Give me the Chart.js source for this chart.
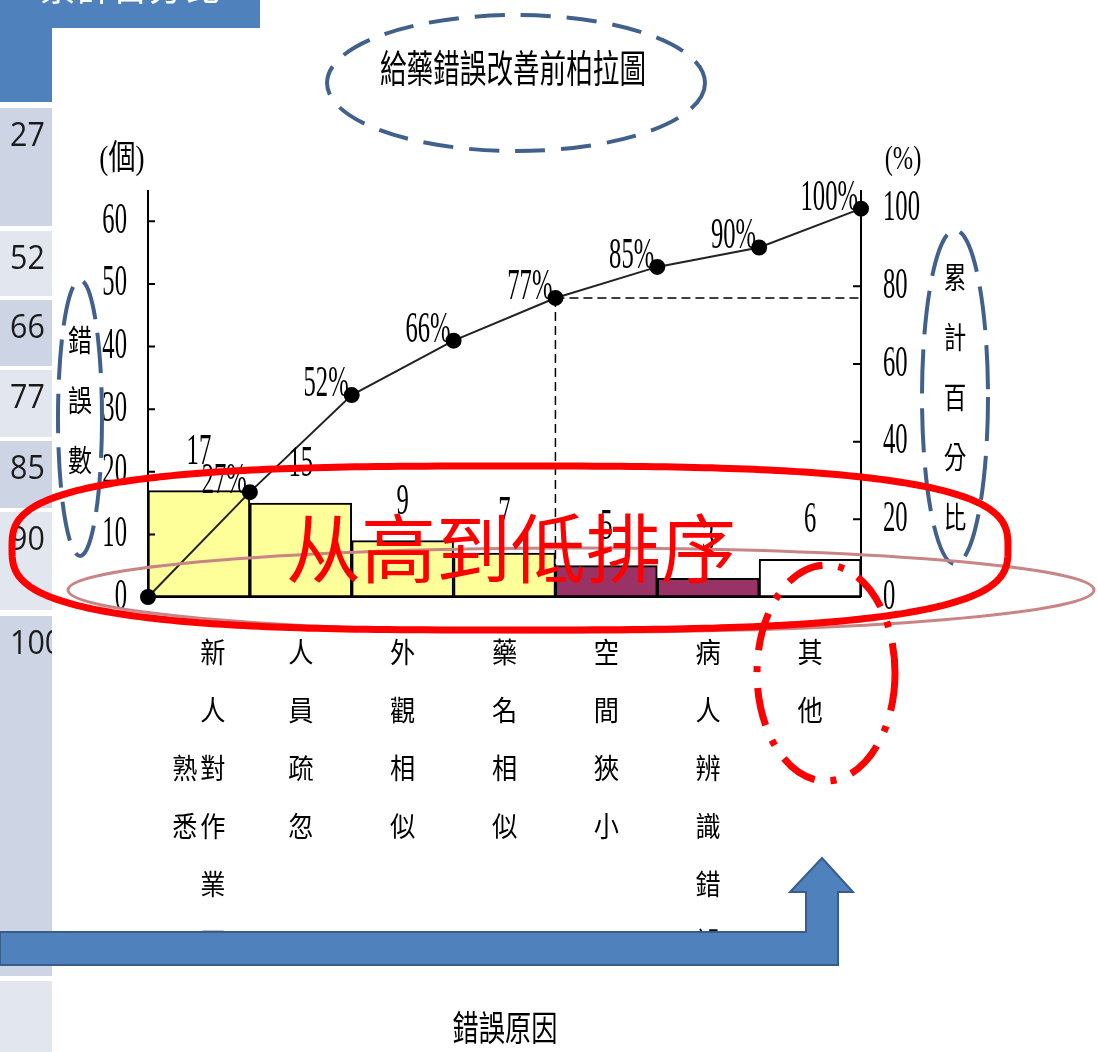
<!DOCTYPE html>
<html>
<head>
<meta charset="utf-8">
<title>給藥錯誤改善前柏拉圖</title>
<script src="https://cdn.jsdelivr.net/npm/chart.js@4.4.1/dist/chart.umd.min.js"></script>
<style>
  html, body { margin: 0; padding: 0; background: #fff; }
  canvas { display: block; }
</style>
</head>
<body>
<canvas id="pareto" width="1097" height="1052"></canvas>
<script>
// data
const causes = ['新人對作業不熟悉', '人員疏忽', '外觀相似', '藥名相似', '空間狹小', '病人辨識錯誤', '其他'];
const errorCounts = [17, 15, 9, 7, 5, 3, 6];
const cumPercent = [0, 27, 52, 66, 77, 85, 90, 100];   // starts at origin
const countTicks = [0, 10, 20, 30, 40, 50, 60];
const percentTicks = [0, 20, 40, 60, 80, 100];
const countMax = 65;
const percentMax = 104.8;

const barColors = ['#ffff99', '#ffff99', '#ffff99', '#ffff99', '#993366', '#993366', '#ffffff'];
const SERIF = "'Liberation Serif', 'Noto Sans CJK TC'";
const CJK = "'Noto Sans CJK TC', 'Noto Sans CJK SC'";
const BLUE = '#4f81bd';
const DASH_BLUE = '#41618c';

function drawText(ctx, str, x, y, size, family, scaleX, color, align, base) {
    ctx.save();
    ctx.translate(x, y);
    ctx.scale(scaleX, 1);
    ctx.font = size + 'px ' + family;
    ctx.fillStyle = color || '#000';
    ctx.textAlign = align || 'center';
    ctx.textBaseline = base || 'middle';
    ctx.fillText(str, 0, 0);
    ctx.restore();
}

function superEllipse(ctx, cx, cy, rx, ry, n) {
    ctx.beginPath();
    for (let i = 0; i <= 360; i++) {
        const t = i * Math.PI / 180;
        const c = Math.cos(t), s = Math.sin(t);
        const x = cx + rx * Math.sign(c) * Math.pow(Math.abs(c), 2 / n);
        const y = cy + ry * Math.sign(s) * Math.pow(Math.abs(s), 2 / n);
        if (i) ctx.lineTo(x, y); else ctx.moveTo(x, y);
    }
    ctx.closePath();
}

function dashedEllipse(ctx, cx, cy, rx, ry, color, width, dash) {
    ctx.save();
    ctx.strokeStyle = color;
    ctx.lineWidth = width;
    ctx.setLineDash(dash);
    ctx.beginPath();
    ctx.ellipse(cx, cy, rx, ry, 0, 0, Math.PI * 2);
    ctx.stroke();
    ctx.restore();
}

// side table strip + header of the slide behind the chart
function drawSlideBackground(ctx) {
    ctx.save();
    ctx.fillStyle = '#fff';
    ctx.fillRect(0, 0, 1097, 1052);
    ctx.fillStyle = BLUE;
    ctx.fillRect(0, 0, 260, 28);
    ctx.fillRect(0, 0, 52, 102);
    drawText(ctx, '累計百分比', 130, -13, 36, CJK, 1, '#fff');

    const cells = [[108, 226], [231, 296], [300, 366], [370, 437], [441, 508], [512, 610], [616, 976], [981, 1052]];
    ctx.beginPath();
    ctx.rect(0, 0, 52, 1052);
    ctx.clip();
    cells.forEach(([top, bottom], i) => {
        ctx.fillStyle = i % 2 ? '#e2e6ef' : '#cdd4e3';
        ctx.fillRect(0, top, 52, bottom - top);
        const v = cumPercent[i + 1];
        if (v !== undefined) drawText(ctx, String(v), 10, top + 29, 32, "'Open Sans'", 0.95, '#1a1a1a', 'left');
    });
    ctx.restore();
}

const paretoDecor = {
    id: 'paretoDecor',
    beforeDraw(chart) {
        drawSlideBackground(chart.ctx);
    },
    afterDatasetsDraw(chart) {
        const ctx = chart.ctx;
        const { x, x2, y, y2 } = chart.scales;
        const area = chart.chartArea;

        ctx.save();
        // axes
        ctx.strokeStyle = '#000';
        ctx.lineWidth = 2;
        ctx.beginPath();
        ctx.moveTo(area.left, area.top); ctx.lineTo(area.left, area.bottom);
        ctx.moveTo(area.right, area.top); ctx.lineTo(area.right, area.bottom);
        ctx.moveTo(area.left, area.bottom); ctx.lineTo(area.right, area.bottom);
        countTicks.forEach(v => {
            const py = y.getPixelForValue(v);
            ctx.moveTo(area.left, py); ctx.lineTo(area.left + 7, py);
        });
        percentTicks.forEach(v => {
            const py = y2.getPixelForValue(v);
            ctx.moveTo(area.right - 8, py); ctx.lineTo(area.right, py);
        });
        ctx.stroke();

        countTicks.forEach(v => drawText(ctx, String(v), area.left - 21, y.getPixelForValue(v), 44, SERIF, 0.56, '#000', 'right'));
        percentTicks.forEach(v => drawText(ctx, String(v), area.right + 22, y2.getPixelForValue(v), 44, SERIF, 0.56, '#000', 'left'));

        // 80% guide through the fourth cumulative point
        const gx = x2.getPixelForValue(4), gy = y2.getPixelForValue(cumPercent[4]);
        ctx.lineWidth = 1.5;
        ctx.setLineDash([9, 5]);
        ctx.beginPath();
        ctx.moveTo(gx, gy); ctx.lineTo(gx, area.bottom);
        ctx.moveTo(gx, gy); ctx.lineTo(area.right, gy);
        ctx.stroke();
        ctx.setLineDash([]);

        // count labels over the bars
        errorCounts.forEach((v, i) => {
            drawText(ctx, String(v), x.getPixelForValue(i), y.getPixelForValue(v) - 27, 44, SERIF, 0.56, '#000', 'center', 'alphabetic');
        });
        // cumulative percent labels
        cumPercent.forEach((v, i) => {
            if (i === 0) return;
            drawText(ctx, v + '%', x2.getPixelForValue(i) - 3, y2.getPixelForValue(v) + 1, 44, SERIF, 0.56, '#000', 'right', 'alphabetic');
        });

        // stacked category labels, cut by the arrow below
        ctx.save();
        ctx.beginPath();
        ctx.rect(0, 600, 1097, 331);
        ctx.clip();
        causes.forEach((label, i) => {
            const cx = x.getPixelForValue(i);
            const chars = [...label];
            const cols = chars.length > 6 ? [chars.slice(0, 6), chars.slice(6)] : [chars];
            cols.forEach((col, c) => {
                const colX = cols.length > 1 ? cx + (c === 0 ? 14 : -14) : cx;
                const startRow = c === 0 ? 0 : 2;
                col.forEach((ch, r) => drawText(ctx, ch, colX, 652 + (startRow + r) * 58, 28, CJK, 0.9));
            });
        });
        ctx.restore();

        // axis titles
        drawText(ctx, '(個)', 122, 160, 34, SERIF, 0.8);
        drawText(ctx, '(%)', 903, 160, 34, SERIF, 0.72);
        ['錯', '誤', '數'].forEach((ch, r) => drawText(ctx, ch, 80, 340 + r * 60, 30, CJK, 0.8));
        ['累', '計', '百', '分', '比'].forEach((ch, r) => drawText(ctx, ch, 955, 277 + r * 60, 30, CJK, 0.75));
        drawText(ctx, '錯誤原因', 505, 1028, 35, CJK, 0.75);
        drawText(ctx, '給藥錯誤改善前柏拉圖', 513, 68, 38, CJK, 0.7);
        ctx.restore();
    },
    afterDraw(chart) {
        const ctx = chart.ctx;
        ctx.save();
        // dashed blue callouts
        dashedEllipse(ctx, 516, 83, 189, 68, DASH_BLUE, 4, [30, 16]);
        dashedEllipse(ctx, 80, 418, 22, 138, DASH_BLUE, 4, [40, 14]);
        dashedEllipse(ctx, 955, 397, 33, 167, DASH_BLUE, 4, [44, 15]);

        // thin pink ellipse
        dashedEllipse(ctx, 581, 590, 513, 42, '#c98585', 3, []);

        // red caption
        drawText(ctx, '从高到低排序', 511, 548, 75, CJK, 1, '#ff0000');

        // big red loop
        ctx.strokeStyle = '#ff0000';
        ctx.lineWidth = 7;
        superEllipse(ctx, 510, 548, 498, 82, 3);
        ctx.stroke();

        // dash-dot ring round 其他
        dashedEllipse(ctx, 826, 673, 69, 108, '#ff0000', 7, [38, 16, 6, 16]);

        // bent blue arrow
        ctx.beginPath();
        ctx.moveTo(0, 932);
        ctx.lineTo(806, 932);
        ctx.lineTo(806, 892);
        ctx.lineTo(790, 892);
        ctx.lineTo(822, 858);
        ctx.lineTo(853, 892);
        ctx.lineTo(838, 892);
        ctx.lineTo(838, 965);
        ctx.lineTo(0, 965);
        ctx.closePath();
        ctx.fillStyle = BLUE;
        ctx.fill();
        ctx.strokeStyle = '#385d8a';
        ctx.lineWidth = 2;
        ctx.stroke();
        ctx.restore();
    }
};

new Chart(document.getElementById('pareto'), {
    type: 'bar',
    data: {
        labels: causes,
        datasets: [
            {
                type: 'line',
                label: '累計百分比',
                data: cumPercent.map((v, i) => ({ x: i, y: v })),
                xAxisID: 'x2',
                yAxisID: 'y2',
                borderColor: '#222',
                borderWidth: 2,
                pointBackgroundColor: '#000',
                pointBorderColor: '#000',
                pointRadius: 7,
                tension: 0,
                clip: false,
                order: 0
            },
            {
                label: '錯誤數',
                data: errorCounts,
                xAxisID: 'x',
                yAxisID: 'y',
                backgroundColor: barColors,
                borderColor: '#000',
                borderWidth: 2,
                borderSkipped: false,
                grouped: false,
                categoryPercentage: 1,
                barPercentage: 1,
                order: 1
            }
        ]
    },
    options: {
        responsive: false,
        animation: false,
        devicePixelRatio: 1,
        layout: { padding: { left: 148, right: 236, top: 190, bottom: 455 } },
        plugins: { legend: { display: false }, tooltip: { enabled: false } },
        scales: {
            x: { display: false, offset: true },
            x2: { type: 'linear', display: false, offset: false, grid: { offset: false }, min: 0, max: 7 },
            y: { display: false, min: 0, max: countMax },
            y2: { display: false, position: 'right', min: 0, max: percentMax }
        }
    },
    plugins: [paretoDecor]
});
</script>
</body>
</html>
